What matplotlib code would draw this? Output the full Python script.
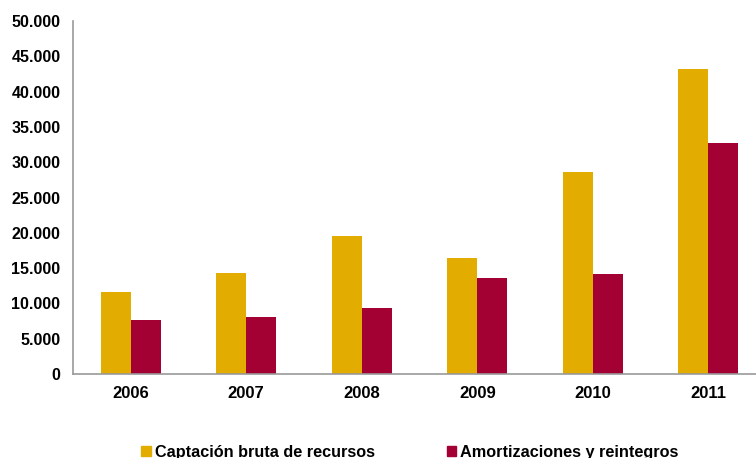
import matplotlib.pyplot as plt
import numpy as np
from matplotlib.patches import Patch

# Data
years = ['2006', '2007', '2008', '2009', '2010', '2011']
captacion = [11600, 14300, 19550, 16400, 28600, 43200]
amortizaciones = [7650, 8100, 9350, 13600, 14200, 32700]

gold = '#E2AC00'
crimson = '#A30034'

plt.rcParams['font.family'] = ['Liberation Sans', 'DejaVu Sans']
plt.rcParams['font.weight'] = 'bold'

fig = plt.figure(figsize=(7.56, 4.58), dpi=100)
ax = fig.add_axes([73 / 756, 84 / 458, 693 / 756, 353 / 458])

x = np.arange(len(years))
w = 0.26
ax.bar(x - w / 2, captacion, w, color=gold, linewidth=0)
ax.bar(x + w / 2, amortizaciones, w, color=crimson, linewidth=0)

ax.set_xlim(-0.5, len(years) - 0.5)
ax.set_ylim(0, 50000)
ax.set_yticks(np.arange(0, 50001, 5000))
ax.set_yticklabels([f'{v:,}'.replace(',', '.') for v in range(0, 50001, 5000)])
ax.set_xticks(x)
ax.set_xticklabels(years)

for s in ['top', 'right']:
    ax.spines[s].set_visible(False)
for s in ['left', 'bottom']:
    ax.spines[s].set_color('#999999')
    ax.spines[s].set_linewidth(1.2)
ax.tick_params(axis='both', length=0, colors='black')
ax.tick_params(axis='y', pad=9, labelsize=11.5)
ax.tick_params(axis='x', pad=9, labelsize=12)

handles = [Patch(color=gold), Patch(color=crimson)]
fig.legend(handles, ['Captación bruta de recursos', 'Amortizaciones y reintegros'],
           loc='center', bbox_to_anchor=(410 / 756, 6 / 458), ncol=2, frameon=False,
           fontsize=11.7, handlelength=0.6, handleheight=0.6, handletextpad=0.25,
           columnspacing=4.4)

fig.savefig('out.png', dpi=100)
